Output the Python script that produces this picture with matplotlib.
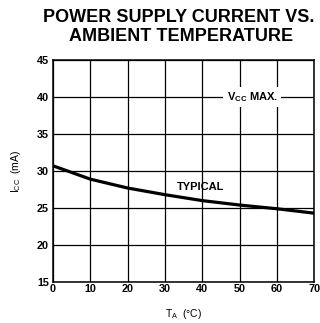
import matplotlib
matplotlib.use("Agg")
import matplotlib.pyplot as plt

# typical supply current vs ambient temperature
temp_c = [0, 10, 20, 30, 40, 50, 60, 70]
icc_ma = [30.7, 28.9, 27.7, 26.8, 26.0, 25.4, 24.9, 24.3]

x_ticks = [0, 10, 20, 30, 40, 50, 60, 70]
y_ticks = [15, 20, 25, 30, 35, 40, 45]

plt.rcParams['font.family'] = ['Liberation Sans', 'DejaVu Sans']

fig = plt.figure(figsize=(3.2, 3.23), dpi=100)
ax = fig.add_axes([0.166, 0.127, 0.816, 0.687])

ax.plot(temp_c, icc_ma, color="black", linewidth=2.3, solid_capstyle="butt", zorder=3)

ax.set_xlim(0, 70)
ax.set_ylim(15, 45)
ax.set_xticks(x_ticks)
ax.set_yticks(y_ticks)
ax.grid(True, color="black", linewidth=0.9)
ax.tick_params(length=0, labelsize=7.8)
ax.tick_params(axis="x", pad=1.5)
ax.tick_params(axis="y", pad=3)
for lbl in ax.get_xticklabels() + ax.get_yticklabels():
    lbl.set_fontweight("bold")
for s in ax.spines.values():
    s.set_linewidth(1.1)

ax.text(53.4, 40, r"V$_{\mathregular{CC}}$ MAX.", ha="center", va="center",
        fontsize=8, fontweight="bold", zorder=4,
        bbox=dict(facecolor="white", edgecolor="none", pad=2.5))
ax.text(39.5, 27.9, "TYPICAL", ha="center", va="center",
        fontsize=8, fontweight="bold")

ax.set_xlabel(r"T$_{\mathregular{A}}$  (°C)", fontsize=7.5, labelpad=9)
ax.set_ylabel(r"I$_{\mathregular{CC}}$  (mA)", fontsize=7.5, labelpad=10)

fig.text(0.56, 0.945, "POWER SUPPLY CURRENT VS.", ha="center", va="center",
         fontsize=13, fontweight="bold")
fig.text(0.565, 0.888, "AMBIENT TEMPERATURE", ha="center", va="center",
         fontsize=13, fontweight="bold")

fig.savefig("out.png", dpi=100)
